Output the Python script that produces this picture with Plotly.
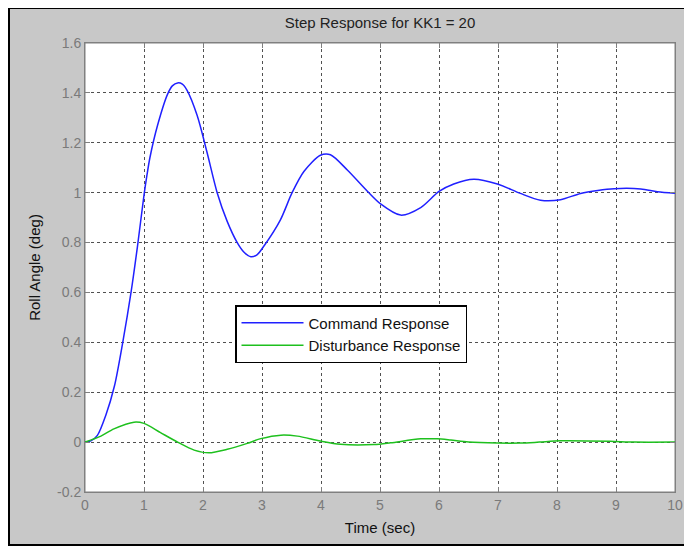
import plotly.graph_objects as go

# ---- data ----
cmd_t = [0, 0.1, 0.21, 0.35, 0.5, 0.64, 0.78, 0.89, 1.0, 1.05, 1.1, 1.23, 1.40, 1.48, 1.57,
         1.65, 1.73, 1.90, 2.07, 2.24, 2.41, 2.58, 2.70, 2.81, 2.92, 3.03, 3.31, 3.51, 3.71, 3.99,
         4.16, 4.45, 4.79, 5.01, 5.35, 5.69, 6.0, 6.25, 6.59, 6.99, 7.38, 7.72, 8.06,
         8.4, 8.69, 8.97, 9.42, 9.70, 10.0]
cmd_y = [0, 0.005, 0.027, 0.106, 0.226, 0.40, 0.60, 0.786, 0.99, 1.07, 1.14, 1.27, 1.395, 1.428, 1.44,
         1.435, 1.41, 1.31, 1.16, 1.0, 0.885, 0.80, 0.76, 0.743, 0.752, 0.785, 0.89, 1.0, 1.085, 1.15,
         1.152, 1.09, 1.005, 0.955, 0.91, 0.94, 1.005, 1.035, 1.054, 1.035, 0.997, 0.97, 0.972,
         0.997, 1.009, 1.016, 1.015, 1.004, 0.998]

dist_t = [0, 0.27, 0.49, 0.83, 1.0, 1.28, 1.57, 1.85, 2.10, 2.41, 2.75, 2.98, 3.32, 3.60,
          3.99, 4.33, 4.9, 5.18, 5.69, 5.97, 6.2, 6.5, 6.99, 7.38, 7.7, 8.06, 8.9, 9.3, 10.0]
dist_y = [0, 0.024, 0.053, 0.08, 0.075, 0.038, 0.0, -0.032, -0.043, -0.029, -0.005, 0.014,
          0.028, 0.024, 0.004, -0.009, -0.01, -0.003, 0.013, 0.013, 0.008, 0.0, -0.004,
          -0.004, 0.0, 0.005, 0.003, 0.0, 0.0]

x_ticks = list(range(0, 11))
y_ticks = [-0.2, 0, 0.2, 0.4, 0.6, 0.8, 1, 1.2, 1.4, 1.6]
y_tick_text = ["-0.2", "0", "0.2", "0.4", "0.6", "0.8", "1", "1.2", "1.4", "1.6"]

FONT = "Liberation Sans, Arial, sans-serif"

fig = go.Figure()
fig.add_trace(go.Scatter(x=cmd_t, y=cmd_y, mode="lines", name="Command Response",
                         line=dict(color="#2020ff", width=1.5, shape="spline", smoothing=0.8)))
fig.add_trace(go.Scatter(x=dist_t, y=dist_y, mode="lines", name="Disturbance Response",
                         line=dict(color="#1ec01e", width=1.5, shape="spline", smoothing=0.8)))

# figure is drawn at an 8px page offset; sizes below are in figure pixels
W, H = 679, 538
L, T = 77, 35
PR, PB = 667, 484          # right and bottom edge of the plot area
R, B = W - PR, H - PB
pw, ph = PR - L, PB - T

def fx(px):
    return (px - L) / pw

def fy(py):
    return (PB - py) / ph

# outer black border (figure frame)
fig.add_shape(type="rect", xref="paper", yref="paper",
              x0=fx(1), x1=fx(W - 1), y0=fy(H - 1), y1=fy(0),
              fillcolor="rgba(0,0,0,0)", line=dict(color="black", width=2), layer="below")
# white plot area
fig.add_shape(type="rect", xref="paper", yref="paper", x0=0, x1=1, y0=0, y1=1,
              fillcolor="white", line=dict(color="#808080", width=1), layer="below")

axis_common = dict(showgrid=True, gridcolor="#505050", griddash="3px,3px", gridwidth=1,
                   zeroline=False, showline=True, linecolor="#808080", linewidth=1,
                   mirror="ticks", ticks="inside", ticklen=5, tickcolor="#808080",
                   automargin=False,
                   tickfont=dict(family=FONT, size=14, color="#7a7a7a"))

fig.update_xaxes(range=[0, 10], tickvals=x_ticks, ticktext=[str(v) for v in x_ticks],
                 title=dict(text="Time (sec)", font=dict(family=FONT, size=15, color="#111"),
                            standoff=10),
                 **axis_common)
fig.update_yaxes(range=[-0.2, 1.6], tickvals=y_ticks, ticktext=y_tick_text,
                 title=dict(text="Roll Angle (deg)", font=dict(family=FONT, size=15, color="#111"),
                            standoff=12),
                 **axis_common)

fig.update_layout(
    width=W, height=H,
    margin=dict(l=L, r=R, t=T, b=B, autoexpand=False),
    paper_bgcolor="#c8c8c8", plot_bgcolor="rgba(0,0,0,0)",
    title=dict(text="Step Response for KK1 = 20", x=372 / W, xanchor="center",
               y=1 - 15 / H, yanchor="middle",
               font=dict(family=FONT, size=15, color="#222")),
    legend=dict(x=fx(227), y=fy(297), xanchor="left", yanchor="top",
                bgcolor="white", bordercolor="black", borderwidth=1.5,
                font=dict(family=FONT, size=15, color="#111"), itemwidth=62,
                tracegroupgap=0),
    showlegend=True,
)

fig.write_html("out.html")
